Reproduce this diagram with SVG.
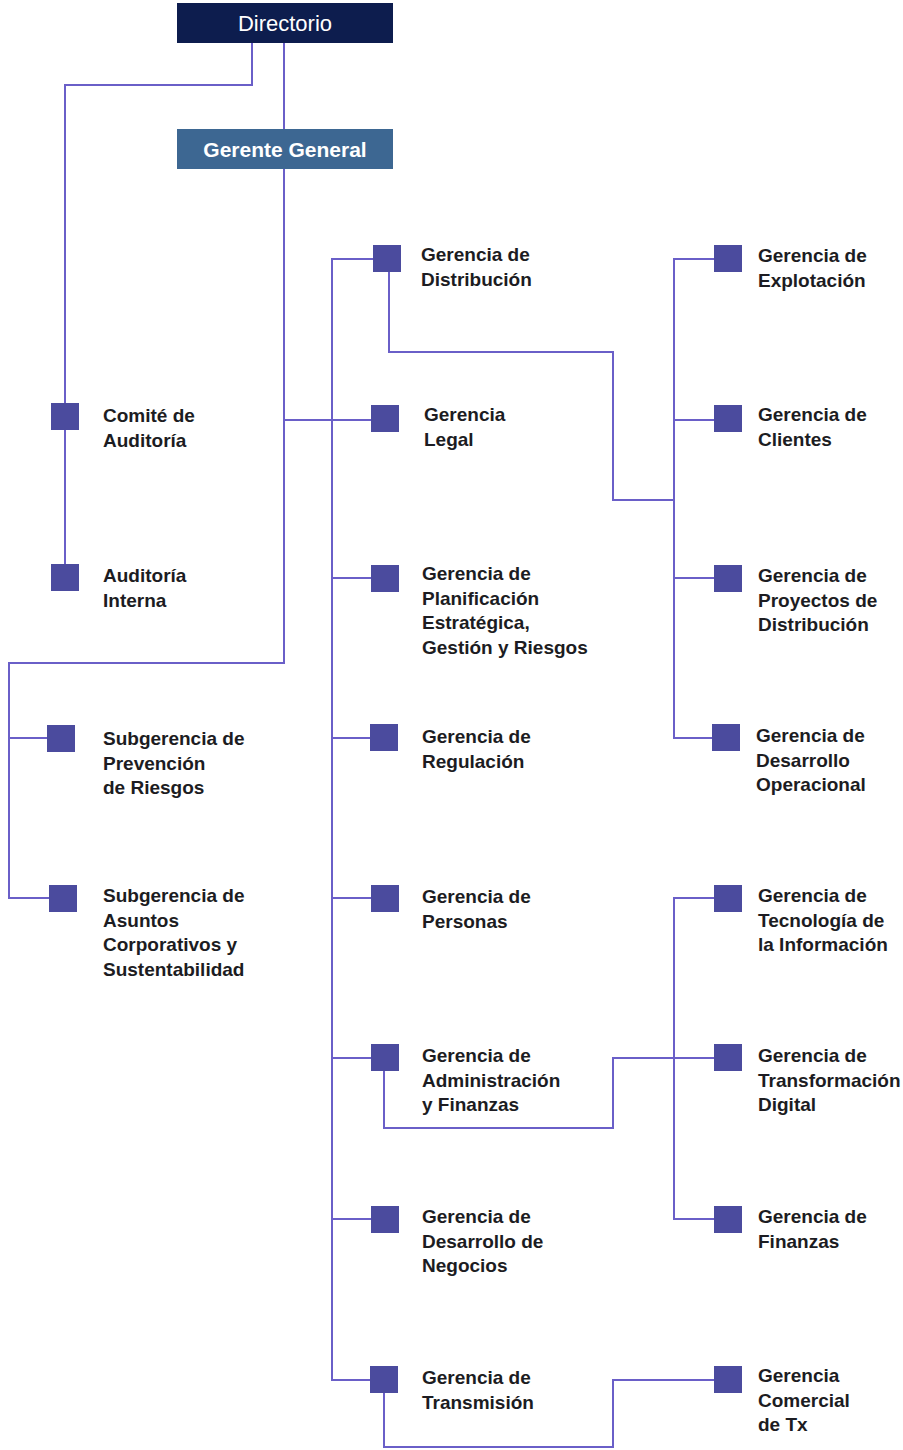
<svg xmlns="http://www.w3.org/2000/svg" width="903" height="1450" viewBox="0 0 903 1450">
<style>
.ln{fill:none;stroke:#6a5fc8;stroke-width:2;}
.sq{fill:#4b4b9e;}
.lb{font-family:"Liberation Sans",Arial,sans-serif;font-weight:bold;font-size:19px;fill:#1c1c22;}
.hd{font-family:"Liberation Sans",Arial,sans-serif;fill:#ffffff;text-anchor:middle;}
</style>
<rect width="903" height="1450" fill="#ffffff"/>
<g id="connectors">
<polyline class="ln" points="252,43 252,85 65,85 65,577"/>
<line class="ln" x1="284" y1="43" x2="284" y2="129"/>
<polyline class="ln" points="284,169 284,663 9,663 9,898 49,898"/>
<line class="ln" x1="9" y1="738" x2="47" y2="738"/>
<line class="ln" x1="284" y1="420" x2="372" y2="420"/>
<polyline class="ln" points="373,259 332,259 332,1380 371,1380"/>
<line class="ln" x1="332" y1="578" x2="372" y2="578"/>
<line class="ln" x1="332" y1="738" x2="371" y2="738"/>
<line class="ln" x1="332" y1="898" x2="372" y2="898"/>
<line class="ln" x1="332" y1="1058" x2="372" y2="1058"/>
<line class="ln" x1="332" y1="1219" x2="372" y2="1219"/>
<polyline class="ln" points="389,271 389,352 613,352 613,500 674,500"/>
<polyline class="ln" points="714,259 674,259 674,738 714,738"/>
<line class="ln" x1="674" y1="420" x2="714" y2="420"/>
<line class="ln" x1="674" y1="578" x2="714" y2="578"/>
<polyline class="ln" points="714,898 674,898 674,1219 714,1219"/>
<polyline class="ln" points="384,1071 384,1128 613,1128 613,1058 714,1058"/>
<polyline class="ln" points="384,1393 384,1447 613,1447 613,1380 714,1380"/>
</g>
<g id="directorio">
<rect x="177" y="3" width="216" height="40" fill="#0d1d4e"/>
<text class="hd" x="285" y="31" font-size="22">Directorio</text>
</g>
<g id="gerente-general">
<rect x="177" y="129" width="216" height="40" fill="#3d6792"/>
<text class="hd" x="285" y="157" font-size="21" font-weight="bold">Gerente General</text>
</g>
<g id="comite-auditoria">
<rect class="sq" x="51" y="403" width="28" height="27"/>
<text class="lb" x="103" y="422">Comité de<tspan x="103" dy="24.5">Auditoría</tspan></text>
</g>
<g id="auditoria-interna">
<rect class="sq" x="51" y="564" width="28" height="27"/>
<text class="lb" x="103" y="582">Auditoría<tspan x="103" dy="24.5">Interna</tspan></text>
</g>
<g id="subgerencia-prevencion">
<rect class="sq" x="47" y="725" width="28" height="27"/>
<text class="lb" x="103" y="745">Subgerencia de<tspan x="103" dy="24.5">Prevención</tspan><tspan x="103" dy="24.5">de Riesgos</tspan></text>
</g>
<g id="subgerencia-asuntos">
<rect class="sq" x="49" y="885" width="28" height="27"/>
<text class="lb" x="103" y="902">Subgerencia de<tspan x="103" dy="24.5">Asuntos</tspan><tspan x="103" dy="24.5">Corporativos y</tspan><tspan x="103" dy="24.5">Sustentabilidad</tspan></text>
</g>
<g id="gerencia-distribucion">
<rect class="sq" x="373" y="245" width="28" height="27"/>
<text class="lb" x="421" y="261">Gerencia de<tspan x="421" dy="24.5">Distribución</tspan></text>
</g>
<g id="gerencia-legal">
<rect class="sq" x="371" y="405" width="28" height="27"/>
<text class="lb" x="424" y="421">Gerencia<tspan x="424" dy="24.5">Legal</tspan></text>
</g>
<g id="gerencia-planificacion">
<rect class="sq" x="371" y="565" width="28" height="27"/>
<text class="lb" x="422" y="580">Gerencia de<tspan x="422" dy="24.5">Planificación</tspan><tspan x="422" dy="24.5">Estratégica,</tspan><tspan x="422" dy="24.5">Gestión y Riesgos</tspan></text>
</g>
<g id="gerencia-regulacion">
<rect class="sq" x="370" y="724" width="28" height="27"/>
<text class="lb" x="422" y="743">Gerencia de<tspan x="422" dy="24.5">Regulación</tspan></text>
</g>
<g id="gerencia-personas">
<rect class="sq" x="371" y="885" width="28" height="27"/>
<text class="lb" x="422" y="903">Gerencia de<tspan x="422" dy="24.5">Personas</tspan></text>
</g>
<g id="gerencia-administracion">
<rect class="sq" x="371" y="1044" width="28" height="27"/>
<text class="lb" x="422" y="1062">Gerencia de<tspan x="422" dy="24.5">Administración</tspan><tspan x="422" dy="24.5">y Finanzas</tspan></text>
</g>
<g id="gerencia-desarrollo-negocios">
<rect class="sq" x="371" y="1206" width="28" height="27"/>
<text class="lb" x="422" y="1223">Gerencia de<tspan x="422" dy="24.5">Desarrollo de</tspan><tspan x="422" dy="24.5">Negocios</tspan></text>
</g>
<g id="gerencia-transmision">
<rect class="sq" x="370" y="1366" width="28" height="27"/>
<text class="lb" x="422" y="1384">Gerencia de<tspan x="422" dy="24.5">Transmisión</tspan></text>
</g>
<g id="gerencia-explotacion">
<rect class="sq" x="714" y="245" width="28" height="27"/>
<text class="lb" x="758" y="262">Gerencia de<tspan x="758" dy="24.5">Explotación</tspan></text>
</g>
<g id="gerencia-clientes">
<rect class="sq" x="714" y="405" width="28" height="27"/>
<text class="lb" x="758" y="421">Gerencia de<tspan x="758" dy="24.5">Clientes</tspan></text>
</g>
<g id="gerencia-proyectos">
<rect class="sq" x="714" y="565" width="28" height="27"/>
<text class="lb" x="758" y="582">Gerencia de<tspan x="758" dy="24.5">Proyectos de</tspan><tspan x="758" dy="24.5">Distribución</tspan></text>
</g>
<g id="gerencia-desarrollo-operacional">
<rect class="sq" x="712" y="724" width="28" height="27"/>
<text class="lb" x="756" y="742">Gerencia de<tspan x="756" dy="24.5">Desarrollo</tspan><tspan x="756" dy="24.5">Operacional</tspan></text>
</g>
<g id="gerencia-tecnologia">
<rect class="sq" x="714" y="885" width="28" height="27"/>
<text class="lb" x="758" y="902">Gerencia de<tspan x="758" dy="24.5">Tecnología de</tspan><tspan x="758" dy="24.5">la Información</tspan></text>
</g>
<g id="gerencia-transformacion">
<rect class="sq" x="714" y="1044" width="28" height="27"/>
<text class="lb" x="758" y="1062">Gerencia de<tspan x="758" dy="24.5">Transformación</tspan><tspan x="758" dy="24.5">Digital</tspan></text>
</g>
<g id="gerencia-finanzas">
<rect class="sq" x="714" y="1206" width="28" height="27"/>
<text class="lb" x="758" y="1223">Gerencia de<tspan x="758" dy="24.5">Finanzas</tspan></text>
</g>
<g id="gerencia-comercial-tx">
<rect class="sq" x="714" y="1366" width="28" height="27"/>
<text class="lb" x="758" y="1382">Gerencia<tspan x="758" dy="24.5">Comercial</tspan><tspan x="758" dy="24.5">de Tx</tspan></text>
</g>
</svg>
